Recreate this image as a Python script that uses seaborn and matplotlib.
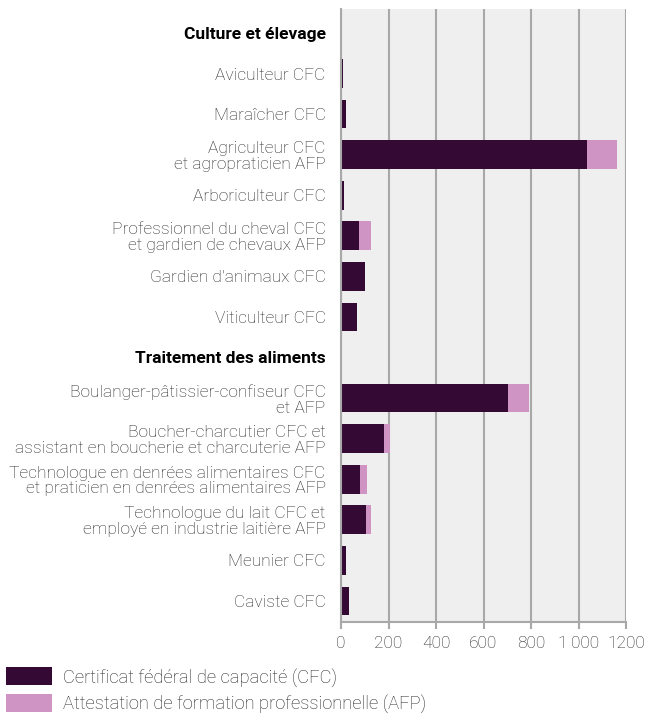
import matplotlib
matplotlib.use("Agg")
import matplotlib.pyplot as plt
import seaborn as sns
import numpy as np
import pandas as pd
from matplotlib.patches import Patch

# Data
categories = [
    "Culture et élevage",
    "Aviculteur CFC",
    "Maraîcher CFC",
    "Agriculteur CFC\net agropraticien AFP",
    "Arboriculteur CFC",
    "Professionnel du cheval CFC\net gardien de chevaux AFP",
    "Gardien d'animaux CFC",
    "Viticulteur CFC",
    "Traitement des aliments",
    "Boulanger-pâtissier-confiseur CFC\net AFP",
    "Boucher-charcutier CFC et\nassistant en boucherie et charcuterie AFP",
    "Technologue en denrées alimentaires CFC\net praticien en denrées alimentaires AFP",
    "Technologue du lait CFC et\nemployé en industrie laitière AFP",
    "Meunier CFC",
    "Caviste CFC",
]
headers = ["Culture et élevage", "Traitement des aliments"]
cfc = [np.nan, 8, 22, 1035, 14, 77, 103, 69, np.nan, 702, 183, 82, 107, 22, 35]
afp = [np.nan, 0, 0, 127, 0, 51, 0, 0, np.nan, 89, 25, 29, 21, 0, 0]
x_ticks = [0, 200, 400, 600, 800, 1000, 1200]
x_ticklabels = ["0", "200", "400", "600", "800", "1\u2009000", "1200"]
legend_labels = ["Certificat fédéral de capacité (CFC)",
                 "Attestation de formation professionnelle (AFP)"]

cfc_color = "#340a35"
afp_color = "#d094c4"
grid_color = "#a8a8a8"
text_color = "#262626"
fsize = 12.5

df = pd.DataFrame({"metier": categories, "cfc": cfc, "afp": afp})
df["total"] = df["cfc"] + df["afp"]

plt.rcParams["font.family"] = ["Roboto", "DejaVu Sans"]

fig = plt.figure(figsize=(6.5, 7.16), dpi=100)
ax = fig.add_axes([341 / 650, 1 - 622 / 716, 285 / 650, 613 / 716])
ax.set_facecolor("#efefef")

# stacked bars: total (AFP colour) underneath, CFC on top
sns.barplot(data=df, y="metier", x="total", order=categories, orient="h",
            color=afp_color, width=0.71, saturation=1, ax=ax, errorbar=None)
sns.barplot(data=df, y="metier", x="cfc", order=categories, orient="h",
            color=cfc_color, width=0.71, saturation=1, ax=ax, errorbar=None)
for p in ax.patches:
    p.set_linewidth(0)

ax.set_xlim(0, 1200)
ax.set_ylim(14.52, -0.59)
ax.set_xticks(x_ticks)
ax.set_xticklabels(x_ticklabels)
ax.set_xlabel("")
ax.set_ylabel("")

ax.set_axisbelow(True)
ax.grid(axis="x", color=grid_color, linewidth=1.5)
ax.grid(axis="y", visible=False)
for side in ["top", "right"]:
    ax.spines[side].set_visible(False)
for side in ["left", "bottom"]:
    ax.spines[side].set_color(grid_color)
    ax.spines[side].set_linewidth(1.5)

ax.tick_params(axis="x", colors=grid_color, length=5, width=1.5, pad=5,
               labelcolor=text_color, labelsize=fsize)
ax.tick_params(axis="y", length=0, pad=11, labelcolor=text_color, labelsize=fsize)
for lab in ax.get_xticklabels():
    lab.set_fontweight("light")
for lab in ax.get_yticklabels():
    if lab.get_text() in headers:
        lab.set_fontweight("bold")
        lab.set_color("black")
    else:
        lab.set_fontweight("light")
    lab.set_linespacing(1.05)

handles = [Patch(facecolor=cfc_color, edgecolor="none"),
           Patch(facecolor=afp_color, edgecolor="none")]
leg = fig.legend(handles, legend_labels, loc="upper left",
                 bbox_to_anchor=(6 / 650, 1 - 667 / 716), frameon=False,
                 handlelength=2.51, handleheight=1.15, handletextpad=0.6,
                 labelspacing=0.38, borderpad=0, borderaxespad=0,
                 prop={"size": 13.2, "weight": "light"})
for t in leg.get_texts():
    t.set_color(text_color)

fig.savefig("out.png", dpi=100)
